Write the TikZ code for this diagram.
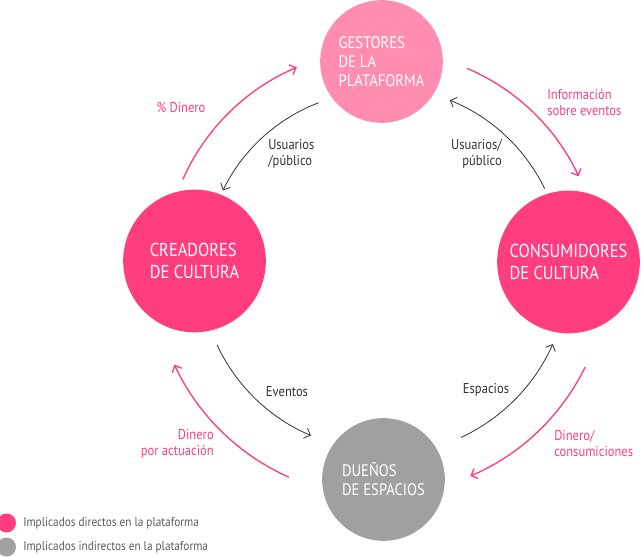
\documentclass[tikz,border=0pt]{standalone}
\usepackage{fontspec}
\setmainfont{PT Sans}[FakeStretch=0.88]
\usetikzlibrary{arrows.meta}
\definecolor{rosa}{HTML}{FF3D7F}
\definecolor{rosaclaro}{HTML}{FF8DB0}
\definecolor{gris}{HTML}{A0A0A0}
\definecolor{oscuro}{HTML}{333333}
\tikzstyle{actor}    = [circle, inner sep=0pt, text=white, align=left, draw=none]
\tikzstyle{grande}   = [actor, minimum size=107pt, font=\fontsize{14}{16.5}\selectfont]
\tikzstyle{mediano}  = [actor, minimum size=92pt, font=\fontsize{12.5}{14.3}\selectfont]
\tikzstyle{pago}     = [draw=rosa, line width=1pt, -{Straight Barb[length=4pt, width=8pt]}]
\tikzstyle{servicio} = [draw=oscuro, line width=0.6pt, -{Straight Barb[length=4pt, width=8pt]}]
\tikzstyle{etiqueta} = [inner sep=0pt, text=oscuro, font=\fontsize{10.7}{12}\selectfont]
\tikzstyle{leyenda}  = [inner sep=0pt, text=oscuro!80, font=\fontsize{9.6}{10}\selectfont, anchor=west]

\begin{document}
\begin{tikzpicture}[x=0.75pt, y=0.75pt]
            \useasboundingbox (0,0) rectangle (641,556);
            \coordinate (hub) at (382,288);

            \node[mediano, fill=rosaclaro] (gestores)     at (381.5,494.5) {GESTORES\\DE LA\\PLATAFORMA};
            \node[grande,  fill=rosa]      (creadores)    at (194.5,295)   {CREADORES\\DE CULTURA};
            \node[grande,  fill=rosa]      (consumidores) at (568.5,294)   {CONSUMIDORES\\DE CULTURA};
            \node[mediano, fill=gris]      (duenos)       at (383.5,76.5)  {DUEÑOS\\DE ESPACIOS};

            \coordinate (infoIni)   at ([shift={(67:217)}]hub);
            \coordinate (usuDerIni) at ([shift={(26:181)}]hub);
            \coordinate (usuIzqIni) at ([shift={(111:177)}]hub);
            \coordinate (pctIni)    at ([shift={(156:218)}]hub);
            \coordinate (evtIni)    at ([shift={(205:182)}]hub);
            \coordinate (actIni)    at ([shift={(246:229)}]hub);
            \coordinate (espIni)    at ([shift={(-65:187)}]hub);
            \coordinate (conIni)    at ([shift={(-26:226)}]hub);

            \draw[pago]     (infoIni)   arc[start angle=67,  end angle=25,  radius=217];
            \draw[servicio] (usuDerIni) arc[start angle=26,  end angle=68,  radius=181];
            \draw[servicio] (usuIzqIni) arc[start angle=111, end angle=154, radius=177];
            \draw[pago]     (pctIni)    arc[start angle=156, end angle=113, radius=218];
            \draw[servicio] (evtIni)    arc[start angle=205, end angle=247, radius=182];
            \draw[pago]     (actIni)    arc[start angle=246, end angle=205, radius=229];
            \draw[servicio] (espIni)    arc[start angle=-65, end angle=-24, radius=187];
            \draw[pago]     (conIni)    arc[start angle=-26, end angle=-67, radius=226];

            \node[etiqueta, text=rosa] (lInfo)   at (547,453.5) [anchor=west, align=left] {Información\\sobre eventos};
            \node[etiqueta]            (lUsuDer) at (502,402)   [anchor=east, align=right] {Usuarios/\\público};
            \node[etiqueta]            (lUsuIzq) at (268,402)   [anchor=west, align=left] {Usuarios\\/público};
            \node[etiqueta, text=rosa] (lPct)    at (181,448)   {\% Dinero};
            \node[etiqueta]            (lEvt)    at (287,164)   {Eventos};
            \node[etiqueta]            (lEsp)    at (486,166)   {Espacios};
            \node[etiqueta, text=rosa] (lAct)    at (214,112)   [anchor=east, align=right] {Dinero\\por actuación};
            \node[etiqueta, text=rosa] (lCon)    at (554,112)   [anchor=west, align=left] {Dinero/\\consumiciones};

            \fill[rosa] (6.5,33) circle (9.5);
            \fill[gris] (6.5,9) circle (9.5);
            \node[leyenda] (leyDir) at (23,33) {Implicados directos en la plataforma};
            \node[leyenda] (leyInd) at (23,9)  {Implicados indirectos en la plataforma};
        \end{tikzpicture}
\end{document}
